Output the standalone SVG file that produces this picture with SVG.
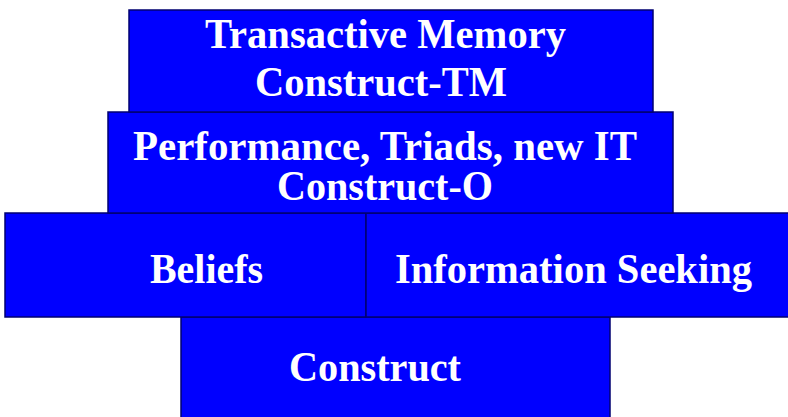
<svg xmlns="http://www.w3.org/2000/svg" width="788" height="417" viewBox="0 0 788 417">
  <style>
    .box { fill: #0000ff; stroke: #000070; stroke-width: 1.5; }
    .lbl { fill: #ffffff; font-family: "Liberation Serif", "Times New Roman", serif; font-weight: bold; font-size: 43px; }
  </style>
  <rect width="788" height="417" fill="#ffffff"/>

  <g id="construct-base">
    <rect class="box" x="181" y="317" width="429" height="102"/>
    <text class="lbl" x="289" y="381" textLength="172" lengthAdjust="spacingAndGlyphs">Construct</text>
  </g>

  <g id="beliefs">
    <rect class="box" x="5" y="213" width="361" height="104"/>
    <text class="lbl" x="150" y="283" textLength="113" lengthAdjust="spacingAndGlyphs">Beliefs</text>
  </g>

  <g id="information-seeking">
    <rect class="box" x="366" y="213" width="425" height="104"/>
    <text class="lbl" x="395" y="283" textLength="357" lengthAdjust="spacingAndGlyphs">Information Seeking</text>
  </g>

  <g id="construct-o">
    <rect class="box" x="108" y="112" width="565" height="101"/>
    <text class="lbl" x="133" y="160" textLength="504" lengthAdjust="spacingAndGlyphs">Performance, Triads, new IT</text>
    <text class="lbl" x="277" y="200" textLength="216" lengthAdjust="spacingAndGlyphs">Construct-O</text>
  </g>

  <g id="construct-tm">
    <rect class="box" x="129" y="10" width="524" height="102"/>
    <text class="lbl" x="205" y="48" textLength="361" lengthAdjust="spacingAndGlyphs">Transactive Memory</text>
    <text class="lbl" x="255" y="96" textLength="252" lengthAdjust="spacingAndGlyphs">Construct-TM</text>
  </g>

  <g id="connectors"></g>
</svg>
